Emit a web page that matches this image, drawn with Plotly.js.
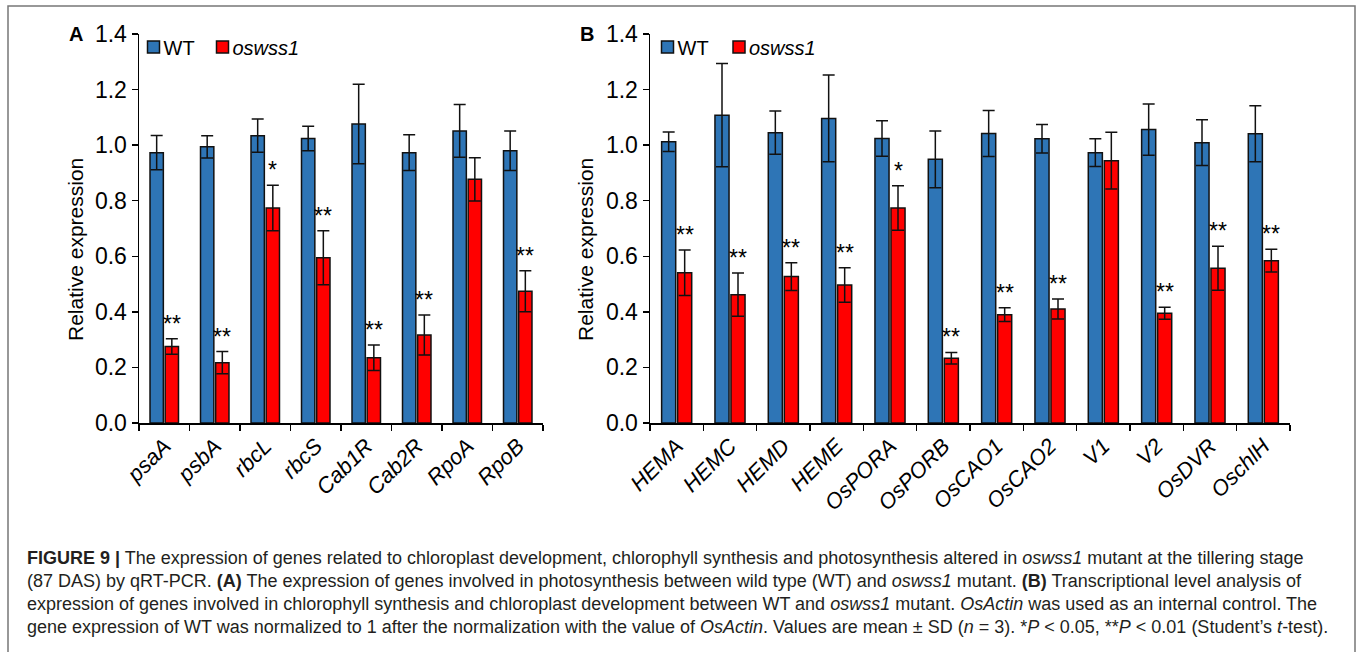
<!DOCTYPE html>
<html>
<head>
<meta charset="utf-8">
<script src="https://cdn.plot.ly/plotly-3.0.1.min.js"></script>
<style>
html,body{margin:0;padding:0;background:#fff;}
#chart{width:1357px;height:652px;}
/* tighten the gap between legend swatch and its label, as in the original figure */
#chart .legendtext,
#chart g[class^="legend"] text{transform:translateX(-10px) !important;}
</style>
</head>
<body>
<div id="chart"></div>
<script>
// ---- Data (Panel A: photosynthesis genes) ----
const genesA = ['psaA','psbA','rbcL','rbcS','Cab1R','Cab2R','RpoA','RpoB'];
const wtA    = [0.973,0.994,1.034,1.024,1.076,0.973,1.051,0.980];
const wtAsd  = [0.062,0.040,0.060,0.044,0.143,0.064,0.095,0.071];
const mutA   = [0.275,0.217,0.774,0.595,0.235,0.317,0.877,0.474];
const mutAsd = [0.028,0.040,0.082,0.097,0.046,0.072,0.078,0.074];
const sigA   = ['**','**','*','**','**','**','','**'];

// ---- Data (Panel B: chlorophyll synthesis / chloroplast development genes) ----
const genesB = ['HEMA','HEMC','HEMD','HEME','OsPORA','OsPORB','OsCAO1','OsCAO2','V1','V2','OsDVR','OschlH'];
const wtB    = [1.012,1.108,1.045,1.096,1.024,0.949,1.042,1.023,0.973,1.056,1.009,1.041];
const wtBsd  = [0.035,0.186,0.078,0.156,0.064,0.102,0.083,0.051,0.050,0.092,0.082,0.101];
const mutB   = [0.541,0.462,0.527,0.497,0.774,0.233,0.390,0.410,0.944,0.395,0.557,0.584];
const mutBsd = [0.082,0.078,0.050,0.062,0.080,0.021,0.025,0.036,0.102,0.022,0.079,0.041];
const sigB   = ['**','**','**','**','*','**','**','**','','**','**','**'];

const seriesNames = ['WT','<i>oswss1</i>'];
const yTitle = 'Relative expression';
const panelLabels = ['A','B'];
const captionLines = [
  '<b>FIGURE 9 |</b> The expression of genes related to chloroplast development, chlorophyll synthesis and photosynthesis altered in <i>oswss1</i> mutant at the tillering stage',
  '(87 DAS) by qRT-PCR. <b>(A)</b> The expression of genes involved in photosynthesis between wild type (WT) and <i>oswss1</i> mutant. <b>(B)</b> Transcriptional level analysis of',
  'expression of genes involved in chlorophyll synthesis and chloroplast development between WT and <i>oswss1</i> mutant. <i>OsActin</i> was used as an internal control. The',
  'gene expression of WT was normalized to 1 after the normalization with the value of <i>OsActin</i>. Values are mean ± SD (<i>n</i> = 3). *<i>P</i> &lt; 0.05, **<i>P</i> &lt; 0.01 (Student’s <i>t</i>-test).'
];

// ---- Layout geometry ----
const W = 1357, H = 652;
const FONT = 'Liberation Sans, Arial, sans-serif';
const BLUE = '#2E75B6', RED = '#FF0000';
const pxA = [139, 543], pxB = [650, 1290];
const yTop = 34, yBot = 423;
const px2x = p => p / W;
const px2y = p => 1 - p / H;

function barTrace(x, y, sd, color, name, xa, ya, legend) {
  return {
    type: 'bar', x: x, y: y, name: name, xaxis: xa, yaxis: ya, legend: legend,
    showlegend: true,
    marker: {color: color, line: {color: '#111', width: 1.5}},
    error_y: {type: 'data', array: sd, symmetric: true, color: '#111', thickness: 1.5, width: 6}
  };
}

const data = [
  barTrace(genesA, wtA, wtAsd, BLUE, seriesNames[0], 'x', 'y', 'legend'),
  barTrace(genesA, mutA, mutAsd, RED, seriesNames[1], 'x', 'y', 'legend2'),
  barTrace(genesB, wtB, wtBsd, BLUE, seriesNames[0], 'x2', 'y2', 'legend3'),
  barTrace(genesB, mutB, mutBsd, RED, seriesNames[1], 'x2', 'y2', 'legend4')
];

const bargap = 0.4;
const annotations = [];
function addStars(genes, vals, sds, sigs, xref, yref, pxRange) {
  const cw = (pxRange[1] - pxRange[0]) / genes.length;
  const shift = cw * (1 - bargap) / 4;
  genes.forEach((g, i) => {
    if (!sigs[i]) return;
    annotations.push({
      x: g, y: vals[i] + sds[i], xref: xref, yref: yref,
      text: sigs[i], showarrow: false, xanchor: 'center', yanchor: 'bottom',
      xshift: shift, yshift: 0,
      font: {family: FONT, size: 23, color: '#000'}
    });
  });
}
addStars(genesA, mutA, mutAsd, sigA, 'x', 'y', pxA);
addStars(genesB, mutB, mutBsd, sigB, 'x2', 'y2', pxB);

[[76, panelLabels[0]], [587, panelLabels[1]]].forEach(([px, t]) => {
  annotations.push({x: px2x(px), y: px2y(34), xref: 'paper', yref: 'paper', text: '<b>' + t + '</b>',
    showarrow: false, xanchor: 'center', yanchor: 'middle', font: {family: FONT, size: 20, color: '#000'}});
});
[75, 585].forEach(px => {
  annotations.push({x: px2x(px), y: px2y(250), xref: 'paper', yref: 'paper', text: yTitle, textangle: -90,
    showarrow: false, xanchor: 'center', yanchor: 'middle', font: {family: FONT, size: 21, color: '#000'}});
});

const capY = [558, 581, 604, 627];
captionLines.forEach((t, i) => {
  annotations.push({x: px2x(25), y: px2y(capY[i]), xref: 'paper', yref: 'paper', text: t,
    showarrow: false, xanchor: 'left', yanchor: 'middle', align: 'left',
    font: {family: FONT, size: 18, color: '#231F20'}});
});

function xAxis(pxRange, anchor) {
  return {
    domain: [px2x(pxRange[0]), px2x(pxRange[1])], anchor: anchor,
    type: 'category', showline: true, linecolor: '#000', linewidth: 1.5,
    ticks: 'outside', tickson: 'boundaries', ticklen: 6, tickwidth: 1.5, tickcolor: '#000',
    tickangle: -45, tickfont: {family: FONT, size: 22, color: '#000', style: 'italic'},
    showgrid: false, zeroline: false, automargin: false, fixedrange: true
  };
}
function yAxis(anchor) {
  return {
    domain: [px2y(yBot), px2y(yTop)], anchor: anchor, range: [0, 1.4], dtick: 0.2, tick0: 0, tickformat: '.1f',
    showline: true, linecolor: '#000', linewidth: 1.5,
    ticks: 'outside', ticklen: 6, tickwidth: 1.5, tickcolor: '#000',
    tickfont: {family: FONT, size: 23, color: '#000'},
    showgrid: false, zeroline: false, automargin: false, fixedrange: true
  };
}

// legend swatch centre lies 20px right of the legend's x
function legendAt(swatchCenterPx) {
  return {
    x: px2x(swatchCenterPx - 20), y: px2y(47), xanchor: 'left', yanchor: 'middle', orientation: 'h',
    font: {family: FONT, size: 20, color: '#000'}, bgcolor: 'rgba(0,0,0,0)',
    itemwidth: 30, itemclick: false, itemdoubleclick: false
  };
}

const layout = {
  width: W, height: H, margin: {l: 0, r: 0, t: 0, b: 0},
  paper_bgcolor: '#fff', plot_bgcolor: 'rgba(0,0,0,0)',
  barmode: 'group', bargap: bargap, bargroupgap: 0.12,
  xaxis: xAxis(pxA, 'y'), yaxis: yAxis('x'),
  xaxis2: xAxis(pxB, 'y2'), yaxis2: yAxis('x2'),
  legend: legendAt(153.5), legend2: legendAt(222.5),
  legend3: legendAt(667.5), legend4: legendAt(739),
  annotations: annotations,
  shapes: [{type: 'rect', xref: 'paper', yref: 'paper', x0: px2x(8), x1: px2x(1355), y0: px2y(700), y1: px2y(6),
    line: {color: '#777', width: 1.5}, layer: 'below'}],
  hovermode: false
};

Plotly.newPlot('chart', data, layout, {displayModeBar: false, staticPlot: true});
</script>
</body>
</html>
